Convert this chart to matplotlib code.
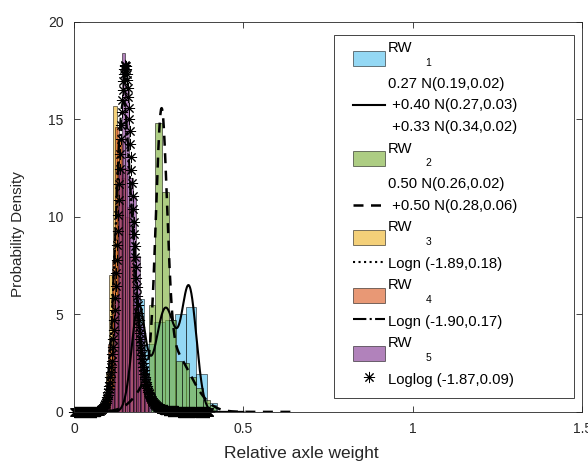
## import libraries

import numpy as np
import matplotlib
matplotlib.use("Agg")
import matplotlib.pyplot as plt
from matplotlib.patches import Rectangle
from matplotlib.legend_handler import HandlerLine2D, HandlerPatch, update_from_first_child

plt.rcParams['font.family'] = ['Liberation Sans', 'DejaVu Sans']

## histogram data (bin edges and densities)

rw1_edges = [0.175, 0.206, 0.237, 0.268, 0.299, 0.330, 0.361, 0.392, 0.423]
rw1_dens = [5.8, 3.5, 4.6, 4.7, 5.0, 5.4, 1.95, 0.45]

rw2_edges = [0.22, 0.24, 0.26, 0.28, 0.30, 0.32, 0.34, 0.36, 0.38, 0.40, 0.42]
rw2_dens = [5.5, 14.8, 11.3, 4.7, 2.6, 2.5, 1.8, 1.2, 0.6, 0.35]

rw3_edges = [0.093, 0.1045, 0.116, 0.1275, 0.139, 0.1505, 0.162, 0.1735,
             0.185, 0.1965, 0.208, 0.2195]
rw3_dens = [2.0, 7.0, 15.7, 14.0, 12.0, 10.0, 7.5, 5.0, 3.0, 1.5, 0.7]

rw4_edges = [0.089, 0.100, 0.111, 0.122, 0.133, 0.144, 0.155, 0.166,
             0.177, 0.188, 0.199, 0.210, 0.221]
rw4_dens = [0.8, 3.5, 7.8, 14.6, 14.0, 12.5, 10.5, 8.0, 5.5, 3.5, 2.0, 1.0]

rw5_edges = [0.096, 0.107, 0.118, 0.129, 0.140, 0.151, 0.162, 0.173,
             0.184, 0.195, 0.206, 0.217, 0.228]
rw5_dens = [0.2, 1.2, 6.0, 12.5, 18.4, 16.5, 12.0, 11.0, 8.0, 4.5, 2.0, 0.6]

## fitted distribution parameters

rw1_w = [0.27, 0.40, 0.33]
rw1_mu = [0.19, 0.27, 0.34]
rw1_sd = [0.02, 0.03, 0.0215]

rw2_w = [0.50, 0.50]
rw2_mu = [0.258, 0.28]
rw2_sd = [0.016, 0.06]

rw3_logn = [-1.89, 0.18]
rw4_logn = [-1.90, 0.17]
rw5_loglog = [-1.87, 0.092]

labels_fit = [
    "0.27 N(0.19,0.02)\n +0.40 N(0.27,0.03)\n +0.33 N(0.34,0.02)",
    "0.50 N(0.26,0.02)\n +0.50 N(0.28,0.06)",
    "Logn (-1.89,0.18)",
    "Logn (-1.90,0.17)",
    "Loglog (-1.87,0.09)",
]
labels_rw = ["RW\n         $\\mathregular{_%d}$" % i for i in range(1, 6)]

colors = ['#4DBEEE', '#77AC30', '#EDB120', '#D95319', '#7E2F8E']


def norm_mix(x, w, mu, sd):
    y = np.zeros_like(x)
    for wi, mi, si in zip(w, mu, sd):
        y += wi * np.exp(-0.5 * ((x - mi) / si) ** 2) / (si * np.sqrt(2 * np.pi))
    return y


def logn_pdf(x, mu, sd):
    x = np.maximum(x, 1e-9)
    return np.exp(-0.5 * ((np.log(x) - mu) / sd) ** 2) / (x * sd * np.sqrt(2 * np.pi))


def loglog_pdf(x, mu, sd):
    x = np.maximum(x, 1e-9)
    z = (np.log(x) - mu) / sd
    return np.exp(z) / (1 + np.exp(z)) ** 2 / (sd * x)


def hist(ax, edges, dens, c):
    edges = np.array(edges)
    return ax.bar(edges[:-1], dens, width=np.diff(edges), align='edge',
                  color=c, alpha=0.6, edgecolor='black', linewidth=0.6)


class ShiftedLine(HandlerLine2D):
    # legend line drawn lower than the centre of its label
    def __init__(self, dy, **kw):
        super().__init__(**kw)
        self.dy = dy

    def create_artists(self, legend, orig_handle, xdescent, ydescent,
                       width, height, fontsize, trans):
        arts = super().create_artists(legend, orig_handle, xdescent, ydescent,
                                      width, height, fontsize, trans)
        for a in arts:
            a.set_ydata(np.asarray(a.get_ydata()) - self.dy)
        return arts


class ShiftedPatch(HandlerPatch):
    # legend patch drawn lower, next to the subscript
    def __init__(self, dy, **kw):
        super().__init__(update_func=update_from_first_child, **kw)
        self.dy = dy

    def create_artists(self, legend, orig_handle, xdescent, ydescent,
                       width, height, fontsize, trans):
        arts = super().create_artists(legend, orig_handle, xdescent, ydescent,
                                      width, height, fontsize, trans)
        for a in arts:
            a.set_y(a.get_y() - self.dy)
        return arts


fig = plt.figure(figsize=(5.88, 4.67), dpi=100)
ax = fig.add_axes([0.126, 0.118, 0.864, 0.835])

x1 = np.linspace(0, 0.5, 600)
x2 = np.linspace(0, 0.65, 700)
x3 = np.linspace(0, 0.4, 500)
x5 = np.arange(0, 0.4005, 0.0015)

b1 = hist(ax, rw1_edges, rw1_dens, colors[0])
l1, = ax.plot(x1, norm_mix(x1, rw1_w, rw1_mu, rw1_sd), 'k-', lw=1.5)
b2 = hist(ax, rw2_edges, rw2_dens, colors[1])
l2, = ax.plot(x2, norm_mix(x2, rw2_w, rw2_mu, rw2_sd), 'k--', lw=1.8, dashes=(4, 3))
b3 = hist(ax, rw3_edges, rw3_dens, colors[2])
l3, = ax.plot(x3, logn_pdf(x3, *rw3_logn), 'k:', lw=1.5)
b4 = hist(ax, rw4_edges, rw4_dens, colors[3])
l4, = ax.plot(x3, logn_pdf(x3, *rw4_logn), 'k-.', lw=1.5)
b5 = hist(ax, rw5_edges, rw5_dens, colors[4])
l5, = ax.plot(x5, loglog_pdf(x5, *rw5_loglog), linestyle='none', marker=(8, 2, 0),
              color='k', markersize=8, markeredgewidth=0.7, clip_on=False)

handles = [b1, l1, b2, l2, b3, l3, b4, l4, b5, l5]
labels = [labels_rw[0], labels_fit[0], labels_rw[1], labels_fit[1], labels_rw[2],
          labels_fit[2], labels_rw[3], labels_fit[3], labels_rw[4], labels_fit[4]]

ax.set_xlim(0, 1.5)
ax.set_ylim(0, 20)
ax.set_xticks([0, 0.5, 1, 1.5])
ax.set_xticklabels(['0', '0.5', '1', '1.5'])
ax.set_yticks([0, 5, 10, 15, 20])

ax.tick_params(direction='in', top=True, right=True, length=4, width=0.6,
               colors='#262626', labelsize=10, pad=7.5)
for s in ax.spines.values():
    s.set_color('#262626')
    s.set_linewidth(0.6)

ax.set_xlabel('Relative axle weight', fontsize=12.5, color='#262626')
ax.xaxis.set_label_coords(0.447, -0.087)
ax.set_ylabel('Probability Density', fontsize=11, color='#262626')
ax.yaxis.set_label_coords(-0.096, 0.456)

# legend frame
ax.add_patch(Rectangle((0.5118, 0.0359), 0.4725, 0.9308, transform=ax.transAxes,
                       facecolor='white', edgecolor='#262626', linewidth=0.6,
                       zorder=4))

hmap = {l2: ShiftedLine(8)}
for b in [b1, b2, b3, b4, b5]:
    hmap[b] = ShiftedPatch(2)

leg = ax.legend(handles, labels, loc='upper left',
                bbox_to_anchor=(0.5484, 0.950), frameon=False,
                fontsize=10.7, borderpad=0, borderaxespad=0,
                handlelength=2.2, handleheight=1.15, handletextpad=0.15,
                labelspacing=0.5, handler_map=hmap)
leg.set_zorder(5)
for i, t in enumerate(leg.get_texts()):
    t.set_color('black')
    if i % 2 == 0:
        t.set_linespacing(0.75)
    else:
        t.set_linespacing(1.72)

plt.savefig('out.png', dpi=100)
